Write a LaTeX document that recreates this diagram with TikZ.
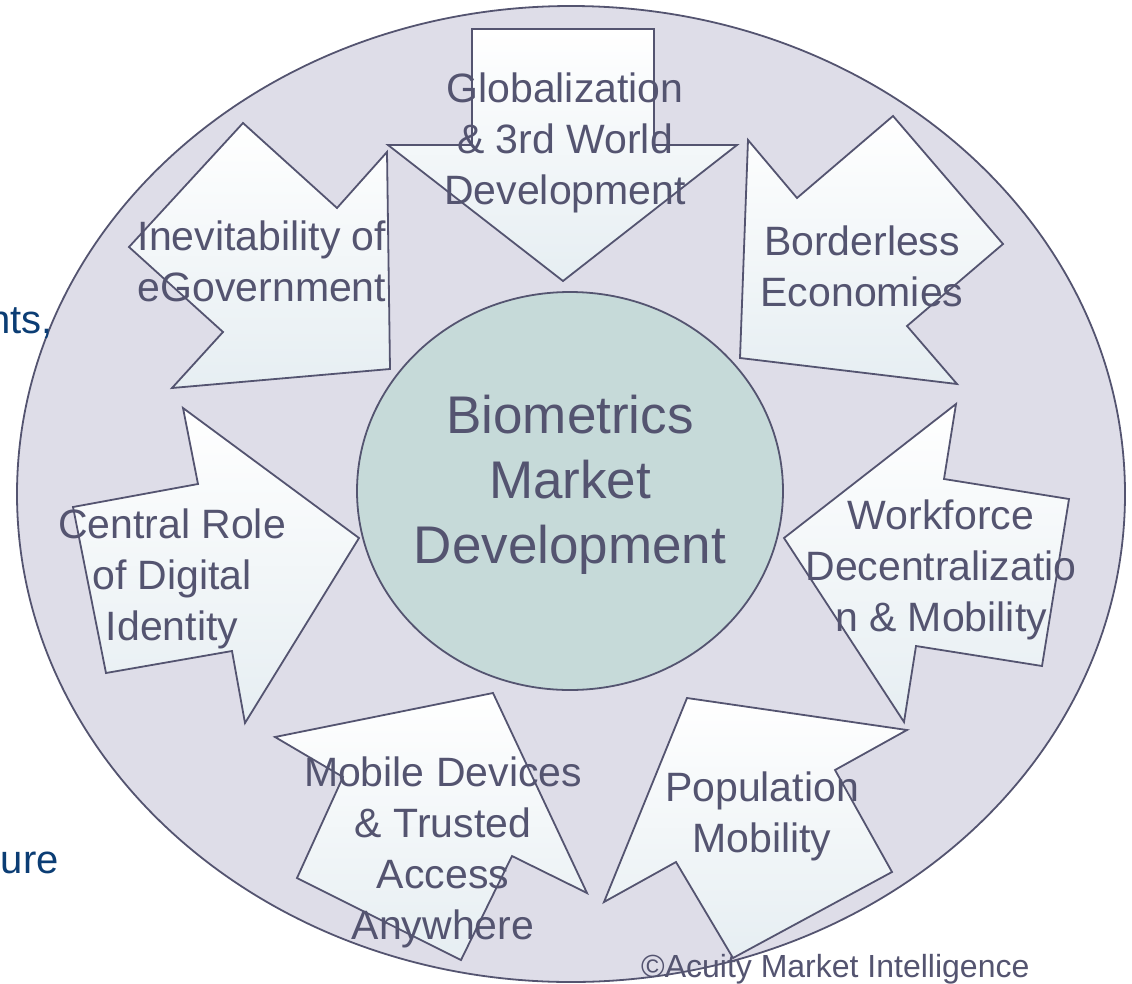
\documentclass[tikz,border=0pt]{standalone}
\usepackage{fontspec}
\setmainfont{Liberation Sans}
\usetikzlibrary{shapes.geometric}
\usetikzlibrary{positioning,calc}
\definecolor{rim}{HTML}{545470}
\definecolor{disc}{HTML}{DEDDE8}
\definecolor{core}{HTML}{C6DAD9}
\definecolor{arrowlow}{HTML}{E6EEF2}
\definecolor{navy}{HTML}{0B3D74}

\begin{document}
\begin{tikzpicture}[x=1pt,y=-1pt,
driver/.style={draw=rim, line width=1.8pt, line join=miter, top color=white, bottom color=arrowlow},
drvtext/.style={text=rim, font=\fontsize{41}{51}\selectfont, align=center, inner sep=0pt},
hub/.style={ellipse, draw=rim, line width=1.8pt, fill=core, minimum width=426pt, minimum height=398pt, inner sep=0pt},
cut/.style={text=navy, font=\fontsize{40}{48}\selectfont, inner sep=0pt}]

\useasboundingbox (0,0) rectangle (1132,983);

\draw[draw=rim, line width=1.8pt, fill=disc] (571,494) ellipse [x radius=554, y radius=488];
\node[hub] (hub) at (570,491) {};

% arrows
\draw[driver] (472,29) -- (654,29) -- (654,145) -- (737,145) -- (563,281) -- (388,145) -- (472,145) -- cycle;
\draw[driver] (243,123) -- (337,208) -- (387,152) -- (390,369) -- (172,388) -- (223,332) -- (129,247) -- cycle;
\draw[driver] (748,140) -- (797,198) -- (893,116) -- (1003,244) -- (907,326) -- (957,384) -- (740,358) -- cycle;
\draw[driver] (183,408) -- (198,484) -- (73,507) -- (106,673) -- (232,651) -- (245,723) -- (359,538) -- cycle;
\draw[driver] (956,404) -- (944,479) -- (1069,499) -- (1042,666) -- (916,646) -- (904,722) -- (784,538) -- cycle;
\draw[driver] (493,693) -- (275,737) -- (343,777) -- (297,878) -- (461,960) -- (512,856) -- (587,893) -- cycle;
\draw[driver] (687,698) -- (907,730) -- (835,770) -- (892,872) -- (733,958) -- (676,862) -- (604,902) -- cycle;

\node[drvtext] (glob) at (565,143) {Globalization\\ \& 3rd World\\ Development};
\node[drvtext] (inev) at (262,261) {Inevitability of\\ eGovernment};
\node[drvtext] (bord) at (862,266) {Borderless\\ Economies};
\node[drvtext] (cent) at (172,579) {Central Role\\ of Digital\\ Identity};
\node[drvtext] (work) at (941,570) {Workforce\\ Decentralizatio\\ n \& Mobility};
\node[drvtext] (mobi) at (443,852) {Mobile Devices\\ \& Trusted\\ Access\\ Anywhere};
\node[drvtext] (popu) at (762,816) {Population\\ Mobility};

\node[text=rim, font=\fontsize{53}{65}\selectfont, align=center, inner sep=0pt] (hubtext) at (570,485) {Biometrics\\ Market\\ Development};

\node[cut, anchor=base east] (nts) at (53,333) {nts,};
\node[cut, anchor=base east] (ure) at (59,873) {ure};

\node[text=rim, font=\fontsize{32}{38}\selectfont, anchor=base west, inner sep=0pt] (acuity) at (641,977) {\textcopyright Acuity Market Intelligence};
%
\end{tikzpicture}
\end{document}
